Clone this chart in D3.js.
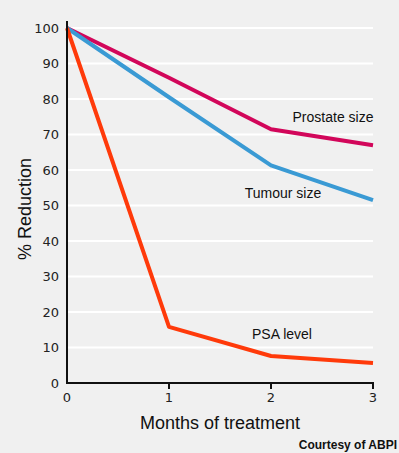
<!DOCTYPE html>
<html>
<head>
<meta charset="utf-8">
<script src="https://cdn.jsdelivr.net/npm/d3@7"></script>
<style>
  html, body { margin: 0; padding: 0; background: #f0f0f0; }
  svg { display: block; }
  .tick-label { font-family: "DejaVu Sans", sans-serif; font-size: 13px; fill: #222; }
</style>
</head>
<body>
<svg id="chart" width="399" height="453"></svg>
<script>
// Months on x, % reduction on y
const months = [0, 1, 2, 3];
const prostateSize = [100, 86, 71.5, 67];
const tumourSize = [100, 80.5, 61.3, 51.5];
const psaLevel = [100, 15.8, 7.6, 5.6];
const yTicks = [0, 10, 20, 30, 40, 50, 60, 70, 80, 90, 100];

const series = [
    { name: 'Prostate size', values: prostateSize, color: '#d2065a', lx: 333, ly: 122 },
    { name: 'Tumour size', values: tumourSize, color: '#3a9ad4', lx: 283, ly: 198 },
    { name: 'PSA level', values: psaLevel, color: '#ff3a0a', lx: 282, ly: 339 }
];

const chartW = 399;
const chartH = 453;
const plotLeft = 67, plotRight = 373, plotTop = 28, plotBottom = 383;

const svg = d3.select('#chart');

svg.append('rect')
    .attr('width', chartW)
    .attr('height', chartH)
    .attr('fill', '#f0f0f0');

const x = d3.scaleLinear().domain([0, 3]).range([plotLeft, plotRight]);
const y = d3.scaleLinear().domain([0, 100]).range([plotBottom, plotTop]);

// white grid lines
svg.append('g')
    .selectAll('line')
    .data(yTicks.filter(d => d > 0))
    .enter()
    .append('line')
    .attr('x1', plotLeft)
    .attr('x2', plotRight)
    .attr('y1', d => y(d))
    .attr('y2', d => y(d))
    .attr('stroke', '#ffffff')
    .attr('stroke-width', 2);

// y tick labels
svg.append('g')
    .selectAll('text')
    .data(yTicks)
    .enter()
    .append('text')
    .attr('class', 'tick-label')
    .attr('x', 59)
    .attr('y', d => y(d))
    .attr('dy', '0.35em')
    .attr('text-anchor', 'end')
    .text(d => d);

// x tick labels and marks
const xg = svg.append('g');
xg.selectAll('line')
    .data(months.filter(d => d > 0))
    .enter()
    .append('line')
    .attr('x1', d => x(d))
    .attr('x2', d => x(d))
    .attr('y1', plotBottom)
    .attr('y2', plotBottom + 6)
    .attr('stroke', '#111')
    .attr('stroke-width', 2);

xg.selectAll('text')
    .data(months)
    .enter()
    .append('text')
    .attr('class', 'tick-label')
    .attr('x', d => x(d))
    .attr('y', plotBottom + 19)
    .attr('text-anchor', 'middle')
    .text(d => d);

// data lines
const line = d3.line()
    .x((d, i) => x(months[i]))
    .y(d => y(d));

series.forEach(s => {
    svg.append('path')
        .datum(s.values)
        .attr('d', line)
        .attr('fill', 'none')
        .attr('stroke', s.color)
        .attr('stroke-width', 4)
        .attr('stroke-linejoin', 'round');

    svg.append('text')
        .attr('x', s.lx)
        .attr('y', s.ly)
        .attr('text-anchor', 'middle')
        .attr('font-family', 'Liberation Sans, Arial, sans-serif')
        .attr('font-size', '14px')
        .attr('fill', '#111')
        .text(s.name);
});

// axes lines
svg.append('line')
    .attr('x1', plotLeft)
    .attr('x2', plotLeft)
    .attr('y1', 21)
    .attr('y2', plotBottom + 1)
    .attr('stroke', '#111')
    .attr('stroke-width', 2);

svg.append('line')
    .attr('x1', plotLeft - 1)
    .attr('x2', plotRight + 1)
    .attr('y1', plotBottom)
    .attr('y2', plotBottom)
    .attr('stroke', '#111')
    .attr('stroke-width', 2);

// axis titles
svg.append('text')
    .attr('transform', `translate(31,209) rotate(-90)`)
    .attr('text-anchor', 'middle')
    .attr('font-family', 'Liberation Sans, Arial, sans-serif')
    .attr('font-size', '18px')
    .attr('fill', '#111')
    .text('% Reduction');

svg.append('text')
    .attr('x', 220)
    .attr('y', 429)
    .attr('text-anchor', 'middle')
    .attr('font-family', 'Liberation Sans, Arial, sans-serif')
    .attr('font-size', '18px')
    .attr('fill', '#111')
    .text('Months of treatment');

svg.append('text')
    .attr('x', 397)
    .attr('y', 449)
    .attr('text-anchor', 'end')
    .attr('font-family', 'Liberation Sans, Arial, sans-serif')
    .attr('font-size', '12px')
    .attr('font-weight', 'bold')
    .attr('fill', '#111')
    .text('Courtesy of ABPI');
</script>
</body>
</html>
